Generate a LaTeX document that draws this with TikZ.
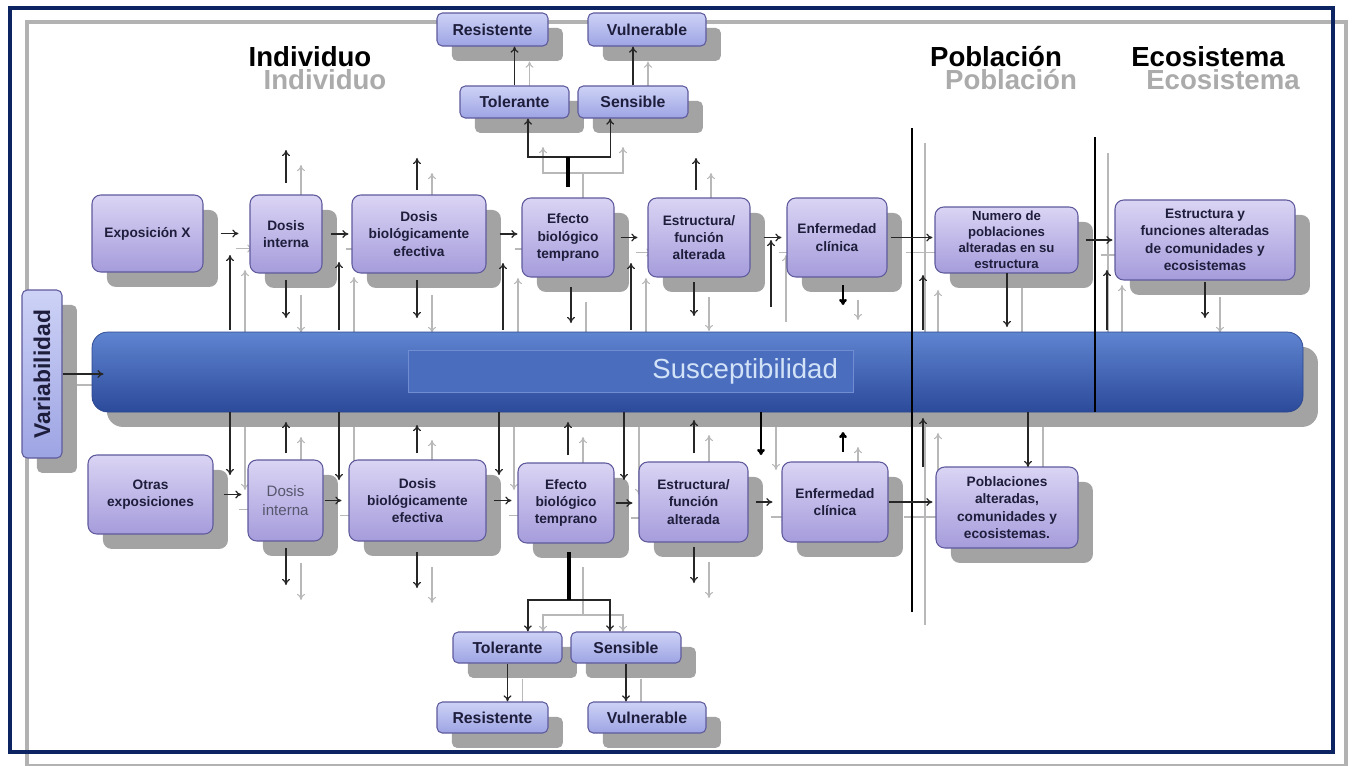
\documentclass[tikz,border=0pt]{standalone}
\usepackage{fontspec}
\setmainfont{Liberation Sans}
\usetikzlibrary{shadows,calc,arrows.meta}

\definecolor{navy}{HTML}{0D2463}
\definecolor{boxtop}{HTML}{DAD4F4}
\definecolor{boxbot}{HTML}{A59CDB}
\definecolor{boxline}{HTML}{5E5A9C}
\definecolor{tagtop}{HTML}{CDD2F6}
\definecolor{tagbot}{HTML}{9DA4E3}
\definecolor{bartop}{HTML}{5F84D0}
\definecolor{barbot}{HTML}{2C4A9A}
\definecolor{barline}{HTML}{2A468E}
\definecolor{barmid}{HTML}{4A6DBE}
\definecolor{barhi}{HTML}{6F8DD0}
\definecolor{susctext}{HTML}{D2E3F8}
\definecolor{boxtext}{HTML}{1E1E3C}

\pgfdeclarelayer{paper}
\pgfdeclarelayer{ghostlayer}
\pgfsetlayers{paper,ghostlayer,main}

% free vertical arrows: x / from / to (pixels)
\newcommand\vertarrows{286/183/150, 417/190/158, 696/190/158, 286/280/318, 417/280/318,
  571/287/323, 694/282/316, 1007/273/327, 1205/282/318, 230/330/255, 339/330/262,
  503/330/263, 631/330/263, 771/307/240, 923/330/275, 1107/330/270, 230/412/475,
  339/412/480, 499/412/475, 624/412/480, 1028/412/467, 286/453/422, 417/453/425,
  568/455/422, 694/453/420, 923/467/418, 286/548/585, 417/552/588, 694/547/583}
\newcommand\heavyarrows{843/285/305, 761/412/455, 843/452/432}

\tikzset{
  boxsize/.style 2 args={minimum width=#1*0.02cm, minimum height=#2*0.02cm},
  boxshadow/.style={drop shadow={shadow xshift=8.5pt, shadow yshift=-8.5pt, fill=black!36, opacity=1}},
  stage/.style={boxshadow, draw=boxline, line width=0.6pt, rounded corners=5pt,
    top color=boxtop, bottom color=boxbot, text=boxtext, align=center, inner sep=1pt,
    font=\bfseries\fontsize{7.8}{9.9}\selectfont},
  dense/.style={font=\bfseries\fontsize{7.5}{9}\selectfont},
  plain/.style={font=\fontsize{8.6}{10.5}\selectfont, text=boxtext!75},
  tag/.style={boxshadow, draw=boxline, line width=0.6pt, rounded corners=3pt,
    top color=tagtop, bottom color=tagbot, text=boxtext, inner sep=1pt,
    font=\bfseries\fontsize{9}{10}\selectfont},
  blk/.style={->, draw=black!85, line width=0.7pt},
  ghost/.style={->, draw=black!28, line width=0.6pt},
  heavy/.style={->, draw=black, line width=1.5pt},
  level/.style={inner sep=0pt, font=\bfseries\fontsize{15.7}{18}\selectfont},
}

\begin{document}
\begin{tikzpicture}[x=0.02cm, y=-0.02cm, >={To[length=3.5pt,width=4.5pt]}]
\useasboundingbox (0,0) rectangle (1353,765);
\begin{pgfonlayer}{paper}
\fill[white] (0,0) rectangle (1353,765);
\draw[black!30, line width=2.3pt] (27,22) rectangle (1346,766);
\end{pgfonlayer}
\draw[navy, line width=2.4pt] (10,8) rectangle (1333,752);

% level headings
\node[level] (hind) at (310,57) {Individuo};
\node[level] (hpob) at (996,57) {Población};
\node[level] (heco) at (1208,57) {Ecosistema};

% susceptibility bar
\node[boxshadow, draw=barline, rounded corners=9pt, top color=bartop, bottom color=barbot,
  boxsize={1211}{80}] (bar) at (697.5,372) {};
\node[draw=barhi, fill=barmid, text=susctext, font=\fontsize{15.7}{18}\selectfont,
  minimum height=0.84cm, text width=8.3cm, inner xsep=0.3cm, align=right] (susc) at (630.5,371) {Susceptibilidad};

% dividers between levels
\draw[black, line width=1.1pt] (912,128) -- (912,612);
\draw[black, line width=1.1pt] (1095,137) -- (1095,412);

% top row
\node[stage, boxsize={111}{77}] (expx) at (147.5,233.5) {Exposición X};
\node[stage, boxsize={72}{78}] (din1) at (286,234) {Dosis\\interna};
\node[stage, boxsize={134}{78}] (dbe1) at (419,234) {Dosis\\biológicamente\\efectiva};
\node[stage, boxsize={92}{79}] (efe1) at (568,237.5) {Efecto\\biológico\\temprano};
\node[stage, boxsize={102}{79}] (est1) at (699,237.5) {Estructura/\\función\\alterada};
\node[stage, boxsize={100}{79}] (enf1) at (837,237.5) {Enfermedad\\clínica};
\node[stage, dense, boxsize={143}{66}] (num) at (1006.5,240) {Numero de\\poblaciones\\alteradas en su\\estructura};
\node[stage, boxsize={180}{80}] (eco) at (1205,240) {Estructura y\\funciones alteradas\\de comunidades y\\ecosistemas};

% bottom row
\node[stage, boxsize={125}{79}] (otr) at (150.5,494.5) {Otras\\exposiciones};
\node[stage, plain, boxsize={75}{81}] (din2) at (285.5,500.5) {Dosis\\interna};
\node[stage, boxsize={137}{81}] (dbe2) at (417.5,500.5) {Dosis\\biológicamente\\efectiva};
\node[stage, boxsize={96}{80}] (efe2) at (566,503) {Efecto\\biológico\\temprano};
\node[stage, boxsize={109}{80}] (est2) at (693.5,502) {Estructura/\\función\\alterada};
\node[stage, boxsize={106}{80}] (enf2) at (835,502) {Enfermedad\\clínica};
\node[stage, boxsize={142}{81}] (pob) at (1007,507.5) {Poblaciones\\alteradas,\\comunidades y\\ecosistemas.};

% responses
\node[tag, boxsize={111}{33}] (res1) at (492.5,29.5) {Resistente};
\node[tag, boxsize={118}{33}] (vul1) at (647,29.5) {Vulnerable};
\node[tag, boxsize={109}{32}] (tol1) at (514.5,102) {Tolerante};
\node[tag, boxsize={110}{32}] (sen1) at (633,102) {Sensible};
\node[tag, boxsize={109}{31}] (tol2) at (507.5,647.5) {Tolerante};
\node[tag, boxsize={110}{31}] (sen2) at (626,647.5) {Sensible};
\node[tag, boxsize={111}{31}] (res2) at (492.5,717.5) {Resistente};
\node[tag, boxsize={118}{31}] (vul2) at (647,717.5) {Vulnerable};
\node[tag, boxsize={40}{168}, font=\bfseries\fontsize{13}{14}\selectfont] (var) at (42,374) {\rotatebox{90}{Variabilidad}};

% arrows along each row
\foreach \a/\b/\s/\e in {expx/din1/17/11, din1/dbe1/8/3, dbe1/efe1/13/4, efe1/est1/6/10,
    est1/enf1/13/5, enf1/num/3/2, num/eco/7/2, otr/din2/10/6, din2/dbe2/1/7,
    dbe2/efe2/7/6, efe2/est2/1/6, est2/enf2/7/9, enf2/pob/0/3}
  \draw[blk] ($(\a.east)+(\s,0)$) -- ($(\a.east -| \b.west)+(-\e,0)$);
\foreach \x/\a/\b in \vertarrows
  \draw[blk] (\x,\a) -- (\x,\b);
\foreach \x/\a/\b in \heavyarrows
  \draw[heavy] (\x,\a) -- (\x,\b);
\draw[blk] (var.east) -- ++(41,0);

% response branches
\coordinate (fork1) at (568,157);
\coordinate (fork2) at (569,600);
\draw[blk, <->] ([xshift=7.7pt]tol1.south) |- (fork1) -| ([xshift=-13pt]sen1.south);
\draw[line width=2.6pt] (fork1) -- ++(0,30);
\draw[blk, <->] ([xshift=11.6pt]tol2.north) |- (fork2) -| ([xshift=-9.1pt]sen2.north);
\draw[line width=2.6pt] (fork2) -- ++(0,-48);
\draw[blk] (tol1.north) -- (tol1.north |- res1.south);
\draw[blk] (sen1.north) -- (sen1.north |- vul1.south);
\draw[blk] (tol2.south) -- (tol2.south |- res2.north);
\draw[blk] (sen2.south) -- (sen2.south |- vul2.north);

% faint echo of everything, offset down-right
\begin{pgfonlayer}{ghostlayer}
\node[level, text=black!33] (hindg) at (325,80) {Individuo};
\node[level, text=black!33] (hpobg) at (1011,80) {Población};
\node[level, text=black!33] (hecog) at (1223,80) {Ecosistema};
\draw[black!28, line width=0.8pt] (925,143) -- (925,625);
\draw[black!28, line width=0.8pt] (1108,153) -- (1108,340);
\foreach \a/\b/\s/\e in {expx/din1/17/11, din1/dbe1/8/3, dbe1/efe1/13/4, efe1/est1/6/10,
    est1/enf1/13/5, enf1/num/3/2, num/eco/7/2, otr/din2/10/6, din2/dbe2/1/7,
    dbe2/efe2/7/6, efe2/est2/1/6, est2/enf2/7/9, enf2/pob/0/3}
  \draw[ghost] ($(\a.east)+(\s+15,15)$) -- ($(\a.east -| \b.west)+(15-\e,15)$);
\begin{scope}[shift={(15,15)}]
\foreach \x/\a/\b in \vertarrows
  \draw[ghost] (\x,\a) -- (\x,\b);
\foreach \x/\a/\b in \heavyarrows
  \draw[ghost] (\x,\a) -- (\x,\b);
\end{scope}
\foreach \a/\b/\p/\q in {tol1/res1/north/south, sen1/vul1/north/south,
    tol2/res2/south/north, sen2/vul2/south/north}
  \draw[ghost] ($(\a.\p)+(15,15)$) -- ($(\a.\p |- \b.\q)+(15,15)$);
\draw[ghost, <->] (543,147) |- (583,173) -| (623,147);
\draw[black!28, line width=1.6pt] (583,173) -- (583,198);
\draw[ghost, <->] (543,632) |- (583,615) -| (623,632);
\draw[black!28, line width=1.6pt] (583,615) -- (583,567);
\draw[black!28, line width=0.6pt] (63,385) -- (92,385);
\end{pgfonlayer}
\end{tikzpicture}
\end{document}
